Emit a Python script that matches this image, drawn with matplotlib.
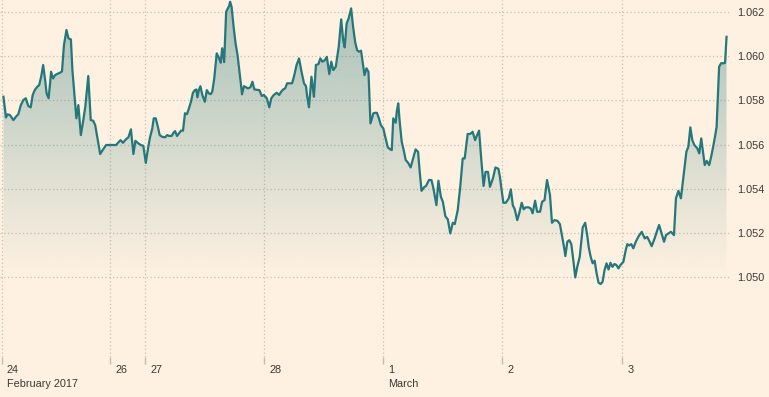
import matplotlib
matplotlib.use("Agg")
import matplotlib.pyplot as plt
import numpy as np
from matplotlib.colors import to_rgb
from matplotlib.patches import Polygon
from matplotlib.transforms import blended_transform_factory, offset_copy

# EUR/USD, chart time in trading hours from the start of 24 Feb
hours = [
    -0.3, 0.2, 0.5, 1.0, 1.7, 2.2, 2.7, 3.2, 3.7, 4.2, 4.7, 5.2, 5.6, 6.0, 6.5, 6.9,
    7.3, 7.7, 8.1, 8.4, 8.8, 9.1, 9.3, 9.7, 10.1, 10.5, 11.1, 11.5, 11.9, 12.4, 12.8,
    13.3, 13.6, 14.1, 14.4, 14.8, 15.3, 15.8, 16.2, 16.8, 17.3, 17.8, 18.2, 18.6, 19.2,
    19.7, 20.4, 22.4, 23.3, 23.8, 24.4, 24.9,
    25.4, 25.9, 26.3, 26.9, 27.4, 27.9, 28.4, 28.8, 29.2, 29.7, 30.0, 30.4, 30.8, 31.2,
    31.7, 32.3, 32.7, 33.1, 33.6, 34.0, 34.3, 34.7, 35.1, 35.5, 35.9, 36.3, 36.7, 37.1,
    37.5, 37.9, 38.3, 38.6, 38.8, 39.1, 39.4, 39.8, 40.3, 40.7, 41.1, 41.5, 41.8, 42.2,
    42.7, 43.1, 43.5, 43.8, 44.2, 44.6, 45.2, 45.4, 45.7, 46.1, 46.5, 46.9, 47.3, 47.6,
    47.8, 48.2, 48.6, 49.0, 49.5,
    49.9, 50.3, 51.3, 51.8, 52.2, 52.8, 53.3, 53.7, 54.2, 54.8, 55.3, 55.7, 56.1, 56.5,
    56.9, 57.9, 58.3, 58.8, 59.3, 59.8, 60.3, 60.7, 60.9, 61.3, 61.8, 62.3, 62.7, 63.2,
    63.6, 64.0, 64.5, 64.9, 65.4, 65.8, 66.2, 66.7, 67.3, 67.8, 68.2, 68.5, 68.9, 69.3,
    69.8, 70.2, 70.6, 71.0, 71.4, 71.8, 72.2, 72.5, 72.9, 73.3, 73.7, 74.3,
    74.6, 75.0, 75.4, 75.8, 76.3, 76.6, 77.2, 77.7, 78.0, 78.3, 78.8, 79.0, 79.3, 79.6,
    80.0, 80.4, 80.8, 81.3, 81.8, 82.3, 82.8, 83.3, 83.6, 84.0, 84.5, 84.9, 85.5, 86.0,
    86.4, 87.0, 87.4, 87.9, 88.3, 88.8, 89.3, 89.8, 90.3, 90.7, 91.3, 91.8, 92.3, 92.7,
    93.3, 93.8, 94.3, 94.8, 95.2, 95.6, 96.0, 96.5, 96.9, 97.4, 97.8, 98.4, 98.9, 99.5,
    99.8, 100.1, 100.5, 101.0, 101.6, 102.0, 102.4, 102.8, 103.3, 103.7, 104.2, 104.6,
    105.0, 105.6, 106.0, 106.4, 106.9, 107.3, 107.9, 108.3, 108.8, 109.3, 109.9, 110.3,
    110.8, 111.4, 111.9, 112.3, 112.7, 113.0, 113.4, 113.8, 114.2, 114.6, 115.0, 115.4,
    115.9, 116.5, 117.0, 117.4, 117.7, 118.1, 118.5, 118.9, 119.3, 119.7, 120.1, 120.5,
    120.9, 121.3, 121.7, 122.1, 122.5, 122.9, 123.3, 123.7, 124.1, 124.7,
    125.2, 125.5, 125.9, 126.3, 126.7, 127.2, 127.8, 128.4, 129.0, 129.5, 130.0, 130.4,
    131.0, 131.5, 131.9, 132.5, 132.9, 133.3, 133.8, 134.3, 134.9, 135.3, 135.8, 136.3,
    136.9, 137.4, 137.8, 138.2, 138.6, 139.0, 139.6, 140.0, 140.4, 140.8, 141.1, 141.5,
    142.0, 142.4, 142.8, 143.2, 143.5, 143.7, 144.0, 144.4, 145.0, 145.2, 145.5,
]
rates = [
    1.05817, 1.05723, 1.05737, 1.05734, 1.05711, 1.05726, 1.05738, 1.05779, 1.05802,
    1.05810, 1.05775, 1.05769, 1.05825, 1.05847, 1.05862, 1.05870, 1.05908, 1.05961,
    1.05893, 1.05832, 1.05810, 1.05878, 1.05930, 1.05900, 1.05915, 1.05920, 1.05926,
    1.05932, 1.06052, 1.06120, 1.06082, 1.06077, 1.05938, 1.05802, 1.05719, 1.05779,
    1.05643, 1.05711, 1.05772, 1.05911, 1.05711, 1.05708, 1.05688, 1.05635, 1.05557,
    1.05575, 1.05598, 1.05598, 1.05620, 1.05608, 1.05624, 1.05633,
    1.05669, 1.05557, 1.05617, 1.05605, 1.05598, 1.05594, 1.05517, 1.05575, 1.05628,
    1.05673, 1.05719, 1.05719, 1.05684, 1.05643, 1.05635, 1.05633, 1.05643, 1.05639,
    1.05639, 1.05654, 1.05661, 1.05639, 1.05651, 1.05663, 1.05663, 1.05742, 1.05738,
    1.05764, 1.05794, 1.05835, 1.05847, 1.05850, 1.05814, 1.05847, 1.05865, 1.05825,
    1.05794, 1.05847, 1.05832, 1.05829, 1.05840, 1.05900, 1.06014, 1.05996, 1.05971,
    1.06037, 1.05974, 1.06203, 1.06229, 1.06248, 1.06225, 1.06135, 1.06059, 1.06006,
    1.05930, 1.05870, 1.05828, 1.05865, 1.05860, 1.05855, 1.05860,
    1.05885, 1.05850, 1.05847, 1.05820, 1.05825, 1.05810, 1.05769, 1.05810, 1.05825,
    1.05835, 1.05825, 1.05840, 1.05850, 1.05855, 1.05878, 1.05878, 1.05911, 1.05961,
    1.05991, 1.05930, 1.05878, 1.05865, 1.05825, 1.05769, 1.05908, 1.05817, 1.05961,
    1.05965, 1.05991, 1.05976, 1.05983, 1.05998, 1.05920, 1.05976, 1.05938, 1.05953,
    1.06044, 1.06168, 1.06074, 1.06041, 1.06150, 1.06173, 1.06218, 1.06135, 1.06067,
    1.06029, 1.06021, 1.06026, 1.05961, 1.05915, 1.05946, 1.05930, 1.05696, 1.05742,
    1.05744, 1.05744, 1.05719, 1.05688, 1.05673, 1.05643, 1.05587, 1.05578, 1.05575,
    1.05719, 1.05699, 1.05749, 1.05787, 1.05703, 1.05613, 1.05575, 1.05530, 1.05517,
    1.05496, 1.05537, 1.05578, 1.05567, 1.05484, 1.05390, 1.05406, 1.05412, 1.05439,
    1.05439, 1.05401, 1.05325, 1.05436, 1.05363, 1.05340, 1.05275, 1.05260, 1.05197,
    1.05245, 1.05239, 1.05303, 1.05408, 1.05537, 1.05537, 1.05648, 1.05648, 1.05658,
    1.05620, 1.05643, 1.05663, 1.05545, 1.05412, 1.05476, 1.05476, 1.05408, 1.05447,
    1.05496, 1.05490,
    1.05454, 1.05401, 1.05336, 1.05336, 1.05356, 1.05397, 1.05325, 1.05306, 1.05257,
    1.05288, 1.05336, 1.05306, 1.05315, 1.05315, 1.05310, 1.05288, 1.05345, 1.05295,
    1.05295, 1.05340, 1.05348, 1.05439, 1.05371, 1.05245, 1.05257, 1.05254, 1.05239,
    1.05189, 1.05139, 1.05094, 1.05159, 1.05166, 1.05148, 1.05076, 1.04997, 1.05045,
    1.05091, 1.05224, 1.05245, 1.05189, 1.05136, 1.05091, 1.05061, 1.05073, 1.05015,
    1.04973, 1.04967, 1.04977, 1.05030, 1.05061, 1.05033, 1.05063, 1.05045, 1.05058,
    1.05053, 1.05038, 1.05053, 1.05068,
    1.05124, 1.05148, 1.05142, 1.05148, 1.05129, 1.05159, 1.05185, 1.05204, 1.05174,
    1.05181, 1.05159, 1.05139, 1.05174, 1.05209, 1.05235, 1.05189, 1.05159, 1.05189,
    1.05197, 1.05204, 1.05189, 1.05356, 1.05390, 1.05356, 1.05469, 1.05567, 1.05590,
    1.05678, 1.05620, 1.05598, 1.05583, 1.05560, 1.05628, 1.05560, 1.05507, 1.05526,
    1.05507, 1.05545, 1.05590, 1.05639, 1.05681, 1.05787, 1.05953, 1.05969, 1.05969,
    1.05971, 1.06089,
]

day_ticks = [-0.6, 21.2, 28.3, 52.3, 76.2, 100.3, 124.5]
day_labels = ["24", "26", "27", "28", "1", "2", "3"]
month_labels = {0: "February 2017", 4: "March"}
y_ticks = [1.050, 1.052, 1.054, 1.056, 1.058, 1.060, 1.062]

bg = "#fef1e1"
line_color = "#24777b"
grid_color = "#c9bfb2"
text_color = "#3b3835"

fig = plt.figure(figsize=(7.69, 3.97), dpi=100, facecolor=bg)
ax = fig.add_axes([0.0, 0.1008, 0.9493, 0.8992])
ax.set_facecolor(bg)

xlo, xhi = -1.0, 146.2
ylo, yhi = 1.04636, 1.06256
fade_to = 1.04995

# gradient fill under the line, fading out at the 1.050 line
poly = Polygon(list(zip(hours, rates)) + [(hours[-1], fade_to), (hours[0], fade_to)],
               closed=True, facecolor="none", edgecolor="none")
ax.add_patch(poly)
grad = np.zeros((256, 1, 4))
grad[:, :, :3] = to_rgb(line_color)
grad[:, 0, 3] = np.linspace(0.40, 0.0, 256)
im = ax.imshow(grad, extent=[xlo, xhi, fade_to, yhi], origin="upper",
               aspect="auto", zorder=1, interpolation="bilinear")
im.set_clip_path(poly)

ax.plot(hours, rates, color=line_color, lw=1.6, zorder=3, solid_joinstyle="round")

ax.set_xlim(xlo, xhi)
ax.set_ylim(ylo, yhi)

for s in ax.spines.values():
    s.set_visible(False)

# gridlines
for y in y_ticks:
    ax.axhline(y, color=grid_color, lw=0.9, ls=(0, (1, 2)), zorder=0)
for x in day_ticks:
    ax.axvline(x, color=grid_color, lw=0.9, ls=(0, (1, 2)), zorder=0)

ax.set_xticks(day_ticks)
ax.set_xticklabels([])
ax.tick_params(axis="x", length=5, width=1, color="#c4bbb0", direction="out")
ax.set_yticks(y_ticks)
ax.set_yticklabels(["%.3f" % v for v in y_ticks])
ax.yaxis.tick_right()
ax.tick_params(axis="y", length=0, pad=5.5, labelsize=7.8, labelcolor=text_color)
for lab in ax.get_yticklabels():
    lab.set_fontfamily("Liberation Sans")

trans = blended_transform_factory(ax.transData, ax.transAxes)
trans = offset_copy(trans, fig=fig, x=5, y=0, units="dots")
for i, (x, lab) in enumerate(zip(day_ticks, day_labels)):
    ax.text(x, -0.022, lab, transform=trans, ha="left", va="top",
            fontsize=7.8, color=text_color, family="Liberation Sans")
    if i in month_labels:
        ax.text(x, -0.062, month_labels[i], transform=trans, ha="left", va="top",
                fontsize=7.8, color=text_color, family="Liberation Sans")

fig.savefig("out.png", dpi=100, facecolor=bg)
